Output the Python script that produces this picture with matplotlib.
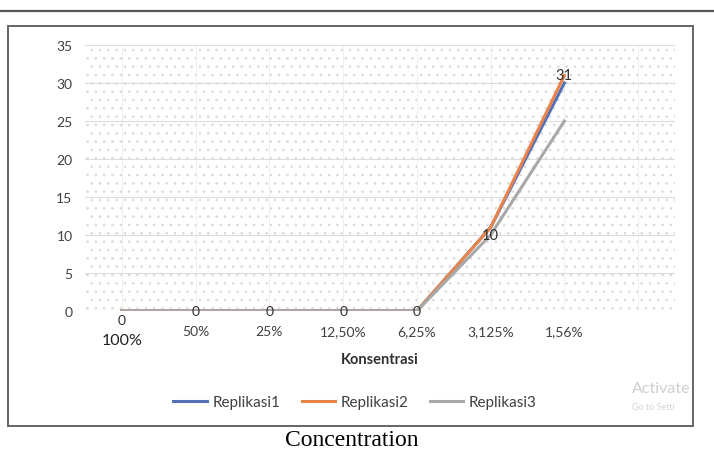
import numpy as np
import matplotlib
matplotlib.use("Agg")
import matplotlib.pyplot as plt
from matplotlib.patches import Rectangle
from matplotlib.lines import Line2D
from matplotlib.transforms import ScaledTranslation

plt.rcParams['font.family'] = ['Lato', 'DejaVu Sans']
plt.rcParams['hatch.linewidth'] = 0.6

# data
kategori = ["100%", "50%", "25%", "12,50%", "6,25%", "3,125%", "1,56%", ""]
replikasi1 = [0, 0, 0, 0, 0, 11, 30]
replikasi2 = [0, 0, 0, 0, 0, 11, 31]
replikasi3 = [0, 0, 0, 0, 0, 10, 25]
label_data = [0, 0, 0, 0, 0, 10, 31]
y_ticks = [0, 5, 10, 15, 20, 25, 30, 35]

W, H = 714, 464
fig = plt.figure(figsize=(W / 100, H / 100), dpi=100)

# garis atas dan bingkai chart
fig.add_artist(Line2D([0, 1], [1 - 12 / H, 1 - 12 / H], color='#555555', lw=1.6))
fig.add_artist(Rectangle((8 / W, 1 - 427 / H), 685 / W, 400 / H, fill=False,
                         edgecolor='#5a5a5a', lw=1.3))

ax = fig.add_axes([85 / W, 1 - 312 / H, 590 / W, 266 / H])
ax.add_patch(Rectangle((0, 0), 1, 1, transform=ax.transAxes, facecolor='white',
                       edgecolor='#d9d9d9', hatch='..', lw=0, zorder=0))

x = np.arange(len(replikasi1))
ax.plot(x, replikasi1, color='#5470B8', lw=2.2, label='Replikasi1', zorder=3)
ax.plot(x, replikasi2, color='#E8844A', lw=2.2, label='Replikasi2', zorder=3.1)
ax.plot(x, replikasi3, color='#A8A8A8', lw=2.2, label='Replikasi3', zorder=3.2)

# label data
for i, v in enumerate(label_data):
    dy = -9 if i == 0 else 0
    fs = 10.5 if v > 0 else 10
    ax.annotate(str(v), (x[i], v), xytext=(0, dy), textcoords='offset pixels',
                ha='center', va='center', fontsize=fs, color='#303030', zorder=4)

ax.set_xlim(-0.5, len(kategori) - 0.5)
ax.set_ylim(0, 35)
ax.set_xticks(range(len(kategori)))
ax.set_xticklabels(kategori)
ax.set_yticks(y_ticks)
ax.tick_params(axis='both', length=0, labelsize=10, labelcolor='#404040')
ax.tick_params(axis='x', pad=10)
ax.tick_params(axis='y', pad=9)
ax.grid(True, axis='y', color='#dcdcdc', lw=0.8)
ax.grid(True, axis='x', color='#ececec', lw=0.6)
ax.set_axisbelow(True)
for s in ax.spines.values():
    s.set_visible(False)

# label 100% sedikit lebih bawah dan besar
t0 = ax.xaxis.get_major_ticks()[0].label1
t0.set_fontsize(11.5)
t0.set_color('#202020')
t0.set_transform(t0.get_transform() + ScaledTranslation(0, -8 / 100, fig.dpi_scale_trans))

ax.set_xlabel('Konsentrasi', fontsize=10.5, fontweight='bold', color='#303030')
ax.xaxis.set_label_coords(0.5, (312 - 353) / 266)

fig.legend(loc='center', bbox_to_anchor=(355 / W, 1 - 403 / H), ncol=3, frameon=False,
           fontsize=11, handlelength=2.2, handletextpad=0.35, columnspacing=1.4,
           labelcolor='#404040')

fig.text(632 / W, 1 - 389 / H, 'Activate', fontsize=11.5, color='#cfcfcf', va='center')
fig.text(632 / W, 1 - 408 / H, 'Go to Setti', fontsize=6.5, color='#d5d5d5', va='center')

fig.text(352 / W, 1 - 441 / H, 'Concentration', family='Liberation Serif',
         fontsize=17, ha='center', va='center', color='black')

fig.savefig('out.png', dpi=100)
